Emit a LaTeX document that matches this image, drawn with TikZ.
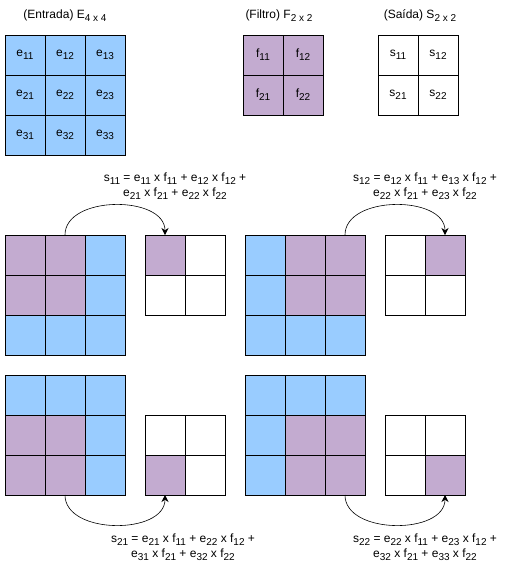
\documentclass[tikz,border=0pt]{standalone}
\usepackage{fontspec}
\setmainfont{Liberation Sans}
\usetikzlibrary{arrows.meta}
\definecolor{inblue}{HTML}{99CCFF}
\definecolor{fpurple}{HTML}{C3ABD0}
\newcommand{\ix}[1]{\raisebox{-3pt}{\fontsize{10}{10}\selectfont #1}}
% frame lines over the filled cells of a 3x3 / 2x2 block
\newcommand{\bigframe}[1]{\draw[frame] (#111.north west) rectangle (#133.south east)
  (#112.north west) -- (#132.south west) (#113.north west) -- (#133.south west)
  (#121.north west) -- (#123.north east) (#131.north west) -- (#133.north east);}
\newcommand{\smallframe}[1]{\draw[frame] (#111.north west) rectangle (#122.south east)
  (#112.north west) -- (#122.south west) (#121.north west) -- (#122.north east);}
\tikzset{
  cell/.style={minimum size=40pt, inner sep=0pt, outer sep=0pt, font=\fontsize{12}{14}\selectfont},
  frame/.style={line width=0.9pt},
  caption/.style={align=center, font=\fontsize{12}{15}\selectfont},
  link/.style={-{Stealth[length=7pt,width=7pt]}, line width=0.6pt}
}
\begin{document}
\begin{tikzpicture}[x=1pt,y=-1pt]
    \useasboundingbox (0,0) rectangle (511,566);
    % matrices on top
    \node[caption] (tE) at (65,16) {(Entrada) E\ix{4 x 4}};
    \node[caption] (tF) at (279,16) {(Filtro) F\ix{2 x 2}};
    \node[caption] (tS) at (420,16) {(Saída) S\ix{2 x 2}};
    \foreach \r in {1,2,3}
        \foreach \c in {1,2,3}
            \node[cell, fill=inblue] (e\r\c) at (-15+40*\c, 15+40*\r) {e\ix{\r\c}};
    \foreach \r in {1,2}
        \foreach \c in {1,2} {
            \node[cell, fill=fpurple] (f\r\c) at (223+40*\c, 15+40*\r) {f\ix{\r\c}};
            \node[cell, fill=white] (s\r\c) at (358+40*\c, 15+40*\r) {s\ix{\r\c}};
        }
    \bigframe{e}
    \smallframe{f}
    \smallframe{s}
    % windows
    \foreach \r/\c/\fc in {1/1/fpurple,1/2/fpurple,1/3/inblue,2/1/fpurple,2/2/fpurple,2/3/inblue,3/1/inblue,3/2/inblue,3/3/inblue}
        \node[cell, fill=\fc] (wa\r\c) at (-15+40*\c, 215+40*\r) {};
    \foreach \r/\c/\fc in {1/1/inblue,1/2/fpurple,1/3/fpurple,2/1/inblue,2/2/fpurple,2/3/fpurple,3/1/inblue,3/2/inblue,3/3/inblue}
        \node[cell, fill=\fc] (wb\r\c) at (225+40*\c, 215+40*\r) {};
    \foreach \r/\c/\fc in {1/1/inblue,1/2/inblue,1/3/inblue,2/1/fpurple,2/2/fpurple,2/3/inblue,3/1/fpurple,3/2/fpurple,3/3/inblue}
        \node[cell, fill=\fc] (wc\r\c) at (-15+40*\c, 355+40*\r) {};
    \foreach \r/\c/\fc in {1/1/inblue,1/2/inblue,1/3/inblue,2/1/inblue,2/2/fpurple,2/3/fpurple,3/1/inblue,3/2/fpurple,3/3/fpurple}
        \node[cell, fill=\fc] (wd\r\c) at (225+40*\c, 355+40*\r) {};
    % outputs
    \foreach \r/\c/\fc in {1/1/fpurple,1/2/white,2/1/white,2/2/white}
        \node[cell, fill=\fc] (oa\r\c) at (125+40*\c, 215+40*\r) {};
    \foreach \r/\c/\fc in {1/1/white,1/2/fpurple,2/1/white,2/2/white}
        \node[cell, fill=\fc] (ob\r\c) at (365+40*\c, 215+40*\r) {};
    \foreach \r/\c/\fc in {1/1/white,1/2/white,2/1/fpurple,2/2/white}
        \node[cell, fill=\fc] (oc\r\c) at (125+40*\c, 395+40*\r) {};
    \foreach \r/\c/\fc in {1/1/white,1/2/white,2/1/white,2/2/fpurple}
        \node[cell, fill=\fc] (od\r\c) at (365+40*\c, 395+40*\r) {};
    \bigframe{wa}
    \bigframe{wb}
    \bigframe{wc}
    \bigframe{wd}
    \smallframe{oa}
    \smallframe{ob}
    \smallframe{oc}
    \smallframe{od}
    % sums
    \node[caption] (la) at (175,186) {s\ix{11} = e\ix{11} x f\ix{11} + e\ix{12} x f\ix{12} +\\e\ix{21} x f\ix{21} + e\ix{22} x f\ix{22}};
    \node[caption] (lb) at (425,186) {s\ix{12} = e\ix{12} x f\ix{11} + e\ix{13} x f\ix{12} +\\e\ix{22} x f\ix{21} + e\ix{23} x f\ix{22}};
    \node[caption] (lc) at (183,547) {s\ix{21} = e\ix{21} x f\ix{11} + e\ix{22} x f\ix{12} +\\e\ix{31} x f\ix{21} + e\ix{32} x f\ix{22}};
    \node[caption] (ld) at (425,547) {s\ix{22} = e\ix{22} x f\ix{11} + e\ix{23} x f\ix{12} +\\e\ix{32} x f\ix{21} + e\ix{33} x f\ix{22}};
    \draw[link] (wa12.north) .. controls +(0,-40) and +(0,-40) .. (oa11.north);
    \draw[link] (wb13.north) .. controls +(0,-40) and +(0,-40) .. (ob12.north);
    \draw[link] (wc32.south) .. controls +(0,40) and +(0,40) .. (oc21.south);
    \draw[link] (wd33.south) .. controls +(0,40) and +(0,40) .. (od22.south);
\end{tikzpicture}
\end{document}
